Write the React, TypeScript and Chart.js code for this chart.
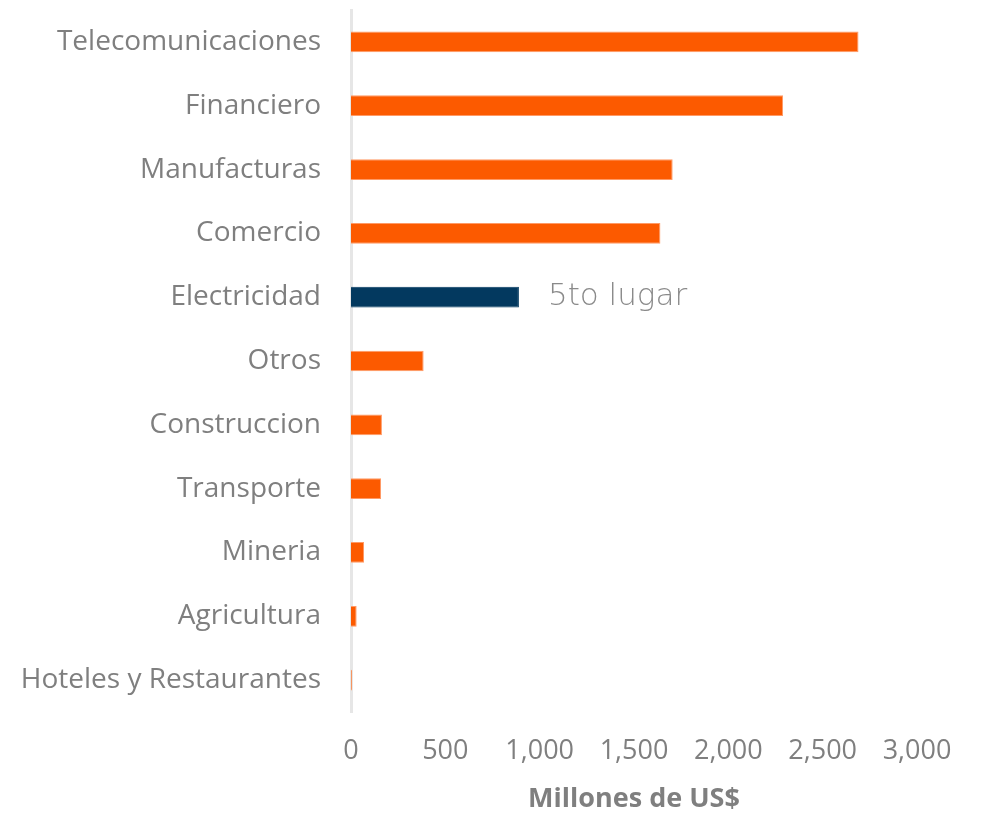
import React, { useEffect, useRef } from "react";
import { Chart, registerables } from "chart.js";

Chart.register(...registerables);

const categories = [
  "Telecomunicaciones",
  "Financiero",
  "Manufacturas",
  "Comercio",
  "Electricidad",
  "Otros",
  "Construccion",
  "Transporte",
  "Mineria",
  "Agricultura",
  "Hoteles y Restaurantes",
];
const values = [2690, 2290, 1705, 1640, 890, 385, 164, 159, 69, 30, 5];
const highlightIndex = 4;
const highlightLabel = "5to lugar";
const xTicks = [0, 500, 1000, 1500, 2000, 2500, 3000];
const axisTitle = "Millones de US$";

const ORANGE = "#FC5A00";
const NAVY = "#03395F";
const GRAY = "#7F7F7F";

const annotationPlugin = {
  id: "annot",
  afterDatasetsDraw(chart: any) {
    const meta = chart.getDatasetMeta(0);
    const bar = meta.data[highlightIndex];
    if (!bar) return;
    const ctx = chart.ctx;
    ctx.save();
    ctx.font = "200 31px 'DejaVu Sans', sans-serif";
    ctx.fillStyle = "#8A8A8A";
    ctx.textBaseline = "middle";
    ctx.textAlign = "left";
    ctx.fillText(highlightLabel, bar.x + 29, bar.y);
    ctx.restore();
  },
};

export default function App() {
  const ref = useRef<HTMLCanvasElement>(null);
  useEffect(() => {
    document.body.style.margin = "0";
    const chart = new Chart(ref.current!, {
      type: "bar",
      data: {
        labels: categories,
        datasets: [
          {
            data: values,
            backgroundColor: values.map((_, i) => (i === highlightIndex ? NAVY : ORANGE)),
            borderColor: values.map((_, i) => (i === highlightIndex ? NAVY : "#FF9A66")),
            borderWidth: 1,
            barPercentage: 0.325,
            categoryPercentage: 1,
          },
        ],
      },
      options: {
        indexAxis: "y",
        animation: false,
        responsive: false,
        maintainAspectRatio: false,
        layout: { padding: { top: 10, right: 73, left: 0, bottom: 0 } },
        plugins: { legend: { display: false }, tooltip: { enabled: false } },
        scales: {
          x: {
            min: 0,
            max: 3000,
            afterBuildTicks: (scale: any) => {
              scale.ticks = xTicks.map((v) => ({ value: v }));
            },
            afterFit: (scale: any) => {
              scale.height = 104;
              scale.paddingLeft = 0;
              scale.paddingRight = 0;
            },
            grid: { display: false, drawTicks: false },
            border: { display: false },
            ticks: {
              color: GRAY,
              padding: 23,
              font: { family: "'Open Sans', sans-serif", size: 27 },
              callback: (v: any) => Number(v).toLocaleString("en-US"),
            },
            title: {
              display: true,
              text: axisTitle,
              color: GRAY,
              font: { family: "'Open Sans', sans-serif", size: 27, weight: "bold" },
              padding: { top: 4, bottom: 0 },
            },
          },
          y: {
            afterFit: (scale: any) => {
              scale.width = 351;
              scale.paddingTop = 0;
              scale.paddingBottom = 0;
            },
            grid: { display: false, drawTicks: false },
            border: { display: true, color: "#E6E6E6", width: 3 },
            ticks: {
              color: GRAY,
              padding: 30,
              font: { family: "'Open Sans', sans-serif", size: 28 },
            },
          },
        },
      },
      plugins: [annotationPlugin],
    } as any);
    return () => chart.destroy();
  }, []);
  return (
    <div style={{ width: 990, height: 816, background: "#fff" }}>
      <canvas ref={ref} width={990} height={816} style={{ display: "block" }} />
    </div>
  );
}
